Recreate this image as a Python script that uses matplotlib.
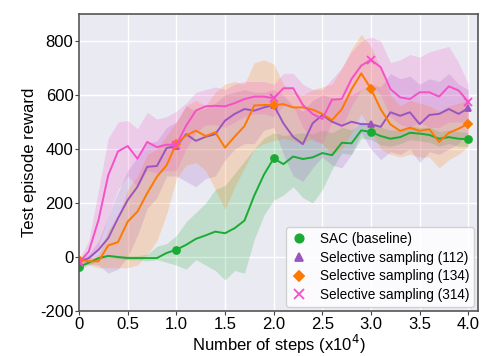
import numpy as np
import matplotlib
matplotlib.use('Agg')
import matplotlib.pyplot as plt
from matplotlib.lines import Line2D

plt.rcParams['font.family'] = ['Liberation Sans', 'DejaVu Sans']

steps = np.round(np.arange(0, 4.01, 0.1), 1)     # x10^4 steps

# SAC baseline
sac_mean = [-37, -21, -4, 4, 0, -4, -4, -4, -4, 15, 27,
            45, 67, 80, 94, 88, 107, 135, 227, 305, 365,
            344, 372, 363, 369, 385, 377, 423, 421, 469, 463,
            448, 438, 444, 460, 457, 452, 438, 444, 438, 436]
sac_hi = [-30, -15, 0, 8, 5, 5, 5, 10, 40, 50, 80,
          130, 165, 200, 250, 265, 310, 355, 400, 440, 460,
          450, 455, 460, 455, 470, 460, 480, 470, 500, 495,
          480, 470, 470, 485, 480, 480, 465, 470, 465, 460]
sac_lo = [-45, -30, -10, 0, -5, -10, -10, -15, -10, -20, -30,
          -45, -10, -30, -50, -85, -50, -60, 65, 155, 210,
          230, 260, 220, 200, 250, 325, 385, 380, 440, 435,
          415, 410, 420, 435, 430, 425, 410, 420, 410, 410]

# selective sampling (112)
s112_mean = [-18, -4, 27, 70, 144, 211, 260, 334, 337, 404, 410,
             455, 430, 445, 455, 505, 530, 548, 542, 554, 563,
             495, 445, 418, 495, 526, 501, 486, 501, 492, 492,
             482, 536, 523, 536, 492, 526, 530, 548, 530, 551]
s112_hi = [-10, 10, 60, 150, 240, 320, 370, 420, 430, 480, 500,
           560, 540, 550, 570, 600, 610, 620, 610, 610, 620,
           600, 560, 540, 580, 600, 590, 580, 600, 620, 640,
           630, 680, 660, 670, 640, 660, 650, 680, 640, 620]
s112_lo = [-30, -25, -30, -60, -45, 0, 80, 180, 220, 300, 300,
           280, 260, 290, 300, 360, 400, 420, 420, 470, 480,
           380, 300, 280, 330, 370, 340, 330, 380, 460, 400,
           360, 390, 380, 400, 350, 390, 380, 400, 420, 460]

# selective sampling (134)
s134_mean = [-10, -16, -16, 43, 55, 131, 168, 236, 297, 340, 420,
             450, 468, 448, 462, 405, 446, 485, 561, 563, 563,
             566, 554, 554, 546, 530, 507, 547, 621, 680, 623,
             547, 491, 467, 479, 467, 473, 426, 460, 475, 494]
s134_hi = [0, -5, 10, 100, 150, 250, 300, 380, 400, 450, 500,
           560, 580, 560, 610, 640, 650, 640, 720, 730, 715,
           640, 610, 600, 620, 630, 640, 700, 770, 825, 780,
           700, 600, 560, 580, 570, 560, 540, 560, 570, 580]
s134_lo = [-20, -30, -40, -40, -40, -40, -30, 10, 60, 160, 290,
           340, 350, 320, 250, 175, 260, 330, 400, 420, 430,
           440, 430, 420, 440, 420, 380, 400, 460, 530, 470,
           400, 380, 370, 380, 370, 370, 330, 360, 380, 410]

# selective sampling (314)
s314_mean = [-20, 20, 137, 303, 391, 411, 364, 426, 407, 416, 415,
             486, 542, 558, 560, 558, 570, 585, 594, 594, 588,
             625, 625, 563, 530, 511, 583, 585, 659, 709, 730,
             703, 622, 591, 585, 610, 610, 594, 632, 617, 575]
s314_hi = [-10, 60, 250, 440, 500, 505, 475, 536, 511, 520, 540,
           570, 610, 620, 630, 620, 640, 650, 650, 650, 640,
           680, 680, 640, 620, 620, 660, 700, 760, 800, 815,
           800, 720, 730, 750, 740, 760, 770, 780, 720, 640]
s314_lo = [-35, -20, 40, 150, 250, 300, 260, 320, 310, 320, 320,
           400, 460, 490, 490, 480, 500, 520, 530, 530, 520,
           560, 560, 480, 430, 420, 500, 480, 560, 620, 640,
           600, 520, 490, 480, 500, 480, 480, 500, 500, 500]

runs = [
    ('SAC (baseline)', sac_mean, sac_lo, sac_hi, '#1aab34', 'o', 5),
    ('Selective sampling (112)', s112_mean, s112_lo, s112_hi, '#9b55c0', '^', 5),
    ('Selective sampling (134)', s134_mean, s134_lo, s134_hi, '#ff7800', 'D', 4.5),
    ('Selective sampling (314)', s314_mean, s314_lo, s314_hi, '#f550c8', 'x', 6),
]

fig = plt.figure(figsize=(4.85, 3.56), dpi=100)
ax = fig.add_axes([0.163, 0.1264, 0.8226, 0.8343])
ax.set_facecolor('#EAEAF2')
ax.grid(True, color='white', lw=1.0)
ax.set_axisbelow(True)

handles = []
for name, mean, lo, hi, col, mk, ms in runs:
    ax.fill_between(steps, lo, hi, color=col, alpha=0.2, lw=0)
    ax.plot(steps, mean, color=col, lw=1.4, marker=mk, markevery=10, ms=ms, mew=1.3)
    handles.append(Line2D([], [], ls='none', marker=mk, color=col,
                          ms=ms + 1, mew=1.3, label=name))

ax.set_xlim(0, 4.1)
ax.set_ylim(-200, 900)
ax.set_xticks([0, 0.5, 1.0, 1.5, 2.0, 2.5, 3.0, 3.5, 4.0])
ax.set_xticklabels(['0', '0.5', '1.0', '1.5', '2.0', '2.5', '3.0', '3.5', '4.0'], fontsize=12)
ax.set_yticks([-200, 0, 200, 400, 600, 800])
ax.set_yticklabels(['-200', '0', '200', '400', '600', '800'], fontsize=12)
ax.tick_params(length=3, width=0.8, color='#444444', pad=1)
for s in ax.spines.values():
    s.set_color('#555555')
    s.set_linewidth(1.2)

ax.set_xlabel('Number of steps (x10$^4$)', fontsize=12, labelpad=1)
ax.set_ylabel('Test episode reward', fontsize=12, labelpad=2)
ax.set_title('(c)', fontsize=13, pad=13)

leg = ax.legend(handles=handles, loc='lower right', fontsize=9.8, frameon=True,
                handletextpad=0.9, handlelength=1.2, borderpad=0.35,
                labelspacing=0.35, borderaxespad=0.3)
leg.get_frame().set_facecolor('white')
leg.get_frame().set_alpha(0.85)
leg.get_frame().set_edgecolor('#cccccc')

fig.savefig('out.png', dpi=100)
